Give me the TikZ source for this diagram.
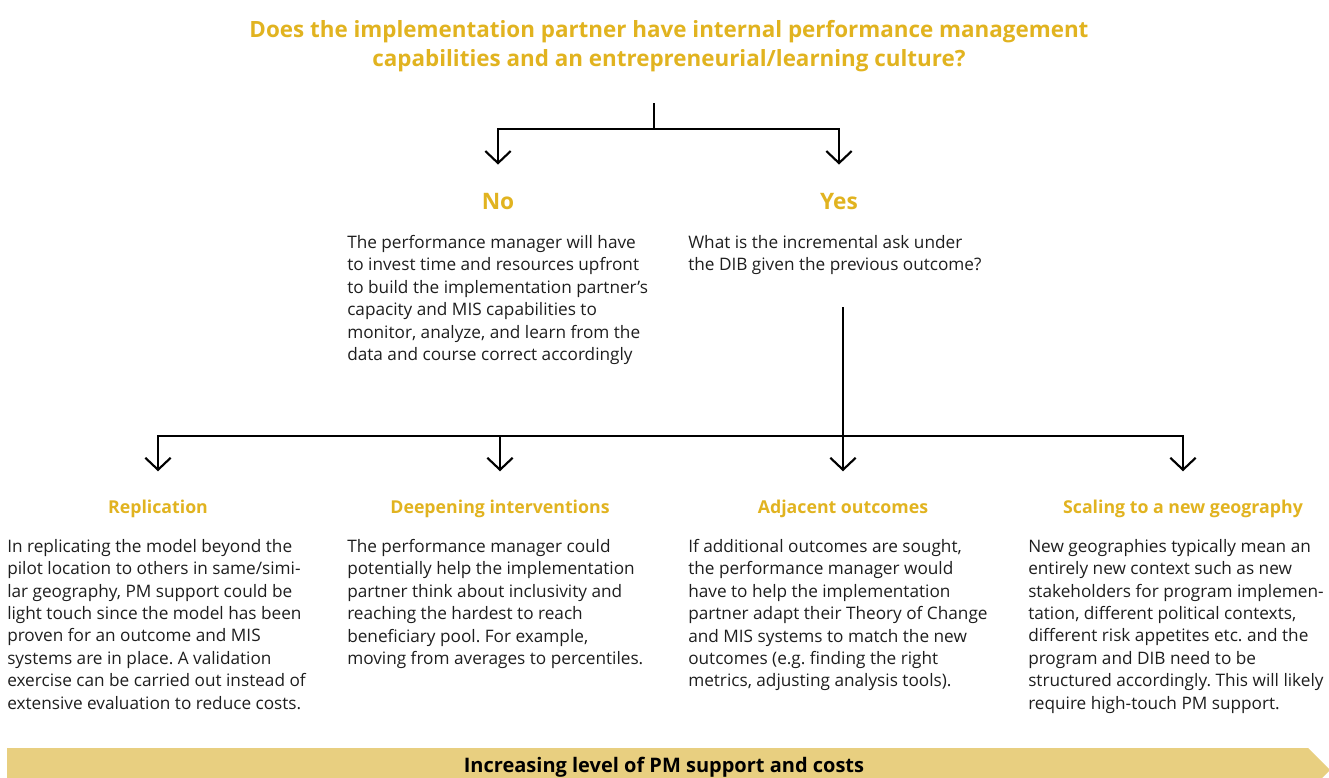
\documentclass[tikz,border=0pt]{standalone}
\usepackage{fontspec}
\setmainfont{Open Sans}
\usepackage{tikz}
\usetikzlibrary{arrows.meta,positioning}
\frenchspacing

\definecolor{gold}{HTML}{E1B320}
\definecolor{barfill}{HTML}{E8CF80}
\definecolor{bodytext}{HTML}{1E1E1E}

\tikzset{
    link/.style={line width=1.5pt, black},
    branch/.style={link, -{Straight Barb[length=9pt,width=19pt,line width=1.6pt]}, shorten >=21pt},
    question/.style={anchor=north, align=center, inner sep=0pt, text=gold, font=\bfseries\fontsize{16.8}{21.75}\selectfont},
    answer/.style={anchor=base, inner sep=0pt, text=gold, font=\bfseries\fontsize{17}{22}\selectfont},
    heading/.style={anchor=base, inner sep=0pt, text=gold, font=\bfseries\fontsize{13.3}{16}\selectfont},
    body/.style={anchor=north west, align=left, inner sep=0pt, text=bodytext, font=\fontsize{12.9}{16.8}\selectfont},
    bartext/.style={anchor=base, inner sep=0pt, text=black, font=\bfseries\fontsize{15}{17}\selectfont}
}

\begin{document}
\begin{tikzpicture}[x=0.75pt, y=-0.75pt]
    \useasboundingbox (0,0) rectangle (1329,778);

    \node[question] (question) at (669,20) {Does the implementation partner have internal performance management\\capabilities and an entrepreneurial/learning culture?};
    \coordinate (stem) at (654,103);
    \coordinate (fork) at (654,129);

    \node[answer] (no) at (498,209) {No};
    \node[answer] (yes) at (839,209) {Yes};
    \node[body] (invest) at (347,235) {The performance manager will have\\to invest time and resources upfront\\to build the implementation partner’s\\capacity and MIS capabilities to\\monitor, analyze, and learn from the\\data and course correct accordingly};
    \node[body] (ask) at (688,235) {What is the incremental ask under\\the DIB given the previous outcome?};

    \coordinate (askend) at (843,307);
    \coordinate (bus) at (843,436);

    \node[heading] (replication) at (158,513) {Replication};
    \node[heading] (deepening) at (500,513) {Deepening interventions};
    \node[heading] (adjacent) at (843,513) {Adjacent outcomes};
    \node[heading] (scaling) at (1183,513) {Scaling to a new geography};

    \node[body] (replicationtext) at (7,539) {In replicating the model beyond the\\pilot location to others in same/simi-\\lar geography, PM support could be\\light touch since the model has been\\proven for an outcome and MIS\\systems are in place. A validation\\exercise can be carried out instead of\\extensive evaluation to reduce costs.};
    \node[body] (deepeningtext) at (347,539) {The performance manager could\\potentially help the implementation\\partner think about inclusivity and\\reaching the hardest to reach\\beneficiary pool. For example,\\moving from averages to percentiles.};
    \node[body] (adjacenttext) at (688,539) {If additional outcomes are sought,\\the performance manager would\\have to help the implementation\\partner adapt their Theory of Change\\and MIS systems to match the new\\outcomes (e.g. finding the right\\metrics, adjusting analysis tools).};
    \node[body] (scalingtext) at (1028,539) {New geographies typically mean an\\entirely new context such as new\\stakeholders for program implemen-\\tation, different political contexts,\\different risk appetites etc. and the\\program and DIB need to be\\structured accordingly. This will likely\\require high-touch PM support.};

    \fill[barfill] (7,748) -- (1308,748) -- (1330,770) -- (1322,778) -- (7,778) -- cycle;
    \node[bartext] (support) at (664,772) {Increasing level of PM support and costs};

    \draw[link] (stem) -- (fork);
    \draw[branch] (fork) -| (no);
    \draw[branch] (fork) -| (yes);
    \draw[branch] (askend) -- (adjacent);
    \draw[branch] (bus) -| (replication);
    \draw[branch] (bus) -| (deepening);
    \draw[branch] (bus) -| (scaling);
\end{tikzpicture}
\end{document}
